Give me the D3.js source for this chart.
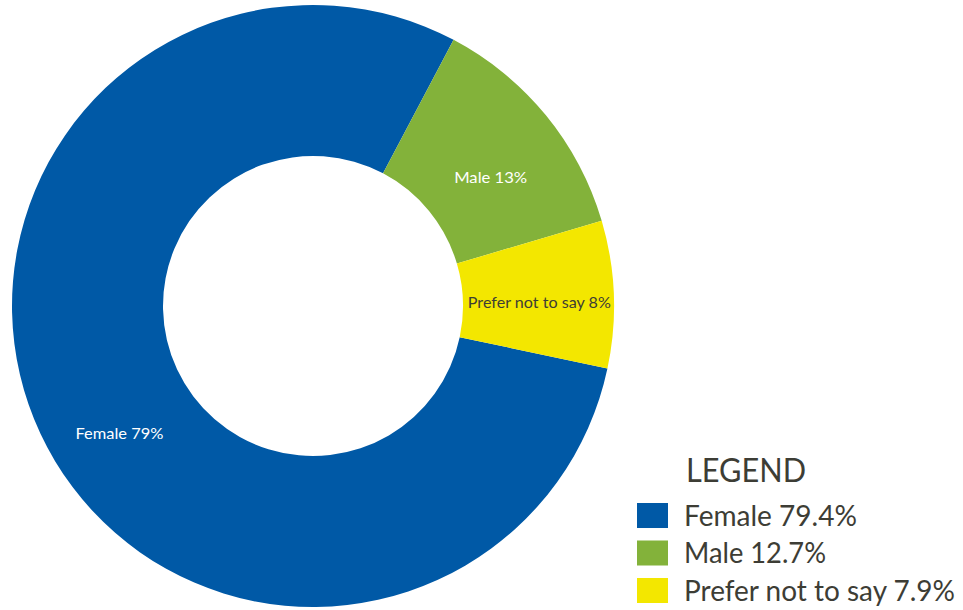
<!DOCTYPE html>
<html>
<head>
<meta charset="utf-8">
<script src="https://cdn.jsdelivr.net/npm/d3@7"></script>
<style>
  body { margin: 0; background: #fff; }
  svg text { font-family: Lato, "DejaVu Sans", sans-serif; }
</style>
</head>
<body>
<svg id="chart" width="963" height="610"></svg>
<script>
// data
const categories = ['Female', 'Male', 'Prefer not to say'];
const values = [79.4, 12.7, 7.9];
const sliceLabels = ['Female 79%', 'Male 13%', 'Prefer not to say 8%'];
const legendLabels = ['Female 79.4%', 'Male 12.7%', 'Prefer not to say 7.9%'];
const colors = ['#0059a6', '#83b23a', '#f3e700'];
const labelColors = ['#ffffff', '#ffffff', '#3d3d35'];

// text widths of the reference's wide geometric font
const sliceLabelWidths = [88, 73, 143];
const legendLabelWidths = [173, 142, 271];
const labelOffsets = [[18, 28], [-3, 19], [-7, 5]];

const svg = d3.select('#chart');
const cx = 313, cy = 306, outerR = 301, innerR = 150;

// start so that Male begins at ~28deg from 12 o'clock
const start = -258 * Math.PI / 180;
const pie = d3.pie().sort(null).startAngle(start).endAngle(start + 2 * Math.PI);
const arcs = pie(values);
const arc = d3.arc().innerRadius(innerR).outerRadius(outerR);

const g = svg.append('g').attr('transform', 'translate(' + cx + ',' + cy + ')');

g.selectAll('path.slice')
  .data(arcs)
  .enter()
  .append('path')
  .attr('class', 'slice')
  .attr('d', arc)
  .attr('fill', (d, i) => colors[i]);

// labels inside slices
const labelArc = d3.arc().innerRadius(innerR + 8).outerRadius(outerR + 8);
g.selectAll('text.slice-label')
  .data(arcs)
  .enter()
  .append('text')
  .attr('class', 'slice-label')
  .attr('transform', (d, i) => {
    let c = labelArc.centroid(d);
    c = [c[0] + labelOffsets[i][0], c[1] + labelOffsets[i][1]];
    return 'translate(' + c[0] + ',' + c[1] + ')';
  })
  .attr('text-anchor', 'middle')
  .attr('dy', '0.35em')
  .attr('font-size', 16)
  .attr('textLength', (d, i) => sliceLabelWidths[i])
  .attr('lengthAdjust', 'spacingAndGlyphs')
  .attr('fill', (d, i) => labelColors[i])
  .text((d, i) => sliceLabels[i]);

// legend
const legend = svg.append('g').attr('transform', 'translate(637,0)');
legend.append('text')
  .attr('x', 49)
  .attr('y', 482)
  .attr('font-size', 32)
  .attr('textLength', 120)
  .attr('lengthAdjust', 'spacingAndGlyphs')
  .attr('fill', '#3d3d35')
  .text('LEGEND');

const rowY = d3.scaleBand().domain(categories).range([503, 603]).paddingInner(0.333);

const rows = legend.selectAll('g.row')
  .data(categories)
  .enter()
  .append('g')
  .attr('class', 'row')
  .attr('transform', d => 'translate(0,' + rowY(d) + ')');

rows.append('rect')
  .attr('width', 31)
  .attr('height', rowY.bandwidth())
  .attr('fill', (d, i) => colors[i]);

rows.append('text')
  .attr('x', 47)
  .attr('y', 23)
  .attr('font-size', 28)
  .attr('textLength', (d, i) => legendLabelWidths[i])
  .attr('lengthAdjust', 'spacingAndGlyphs')
  .attr('fill', '#3d3d35')
  .text((d, i) => legendLabels[i]);
</script>
</body>
</html>
